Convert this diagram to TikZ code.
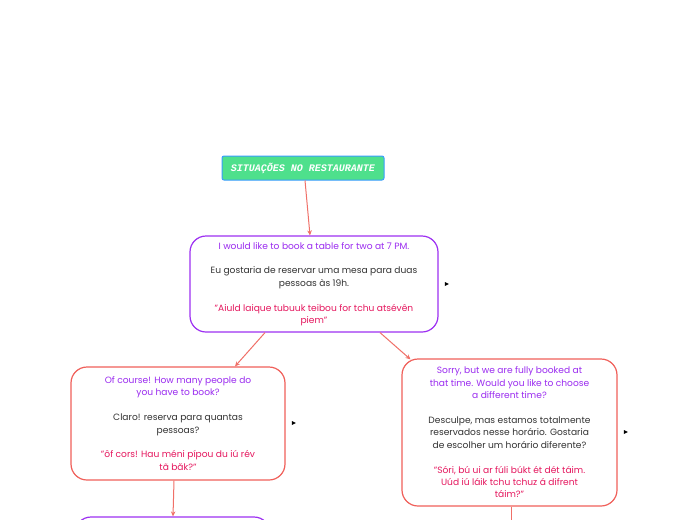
\documentclass[tikz,border=0pt]{standalone}
\usepackage{fontspec}
\setmainfont{Poppins}
\newfontfamily\titlefont{Liberation Mono}
\usetikzlibrary{arrows.meta,shapes.geometric}
\definecolor{tpurple}{HTML}{9B2CF0}
\definecolor{tred}{HTML}{E5175E}
\definecolor{tdark}{HTML}{333333}
\definecolor{bpurple}{HTML}{9D30F2}
\definecolor{bred}{HTML}{F0605A}
\definecolor{conncol}{HTML}{F07068}
\definecolor{tgreen}{HTML}{4EE08C}
\definecolor{tblue}{HTML}{3A9CFF}
\tikzset{
  box/.style={draw, line width=1.2pt, rounded corners=16pt, fill=white, align=center, inner sep=0pt,
    font=\fontsize{9.1}{12.4}\selectfont},
  pbox/.style={box, draw=bpurple},
  rbox/.style={box, draw=bred},
  conn/.style={draw=conncol, line width=1pt, -{Stealth[length=5pt,width=4.5pt]}},
  plainconn/.style={draw=conncol, line width=1pt},
  tri/.style={isosceles triangle, fill=black, inner sep=0pt, minimum width=4pt, minimum height=4pt, isosceles triangle apex angle=70, isosceles triangle stretches},
  titlebox/.style={draw=tblue, fill=tgreen, line width=1pt, rounded corners=2pt, minimum width=162pt, minimum height=24pt,
    text=white, font=\titlefont\fontsize{10}{12}\selectfont\bfseries\itshape}
}
\begin{document}
\begin{tikzpicture}[x=1pt,y=-1pt]
\path[use as bounding box, fill=white] (0,0) rectangle (697,520);
\clip (0,0) rectangle (697,520);

\node[titlebox] (title) at (303,168) {SITUAÇÕES NO RESTAURANTE};

\node[pbox, minimum width=248pt, minimum height=96pt] (b1) at (314,284) {%
\textcolor{tpurple}{I would like to book a table for two at 7 PM.}\\[12.4pt]
\textcolor{tdark}{Eu gostaria de reservar uma mesa para duas}\\
\textcolor{tdark}{pessoas às 19h.}\\[12.4pt]
\textcolor{tred}{"Aiuld laique tubuuk teibou for tchu atsévên}\\
\textcolor{tred}{piem"}};

\node[rbox, minimum width=214pt, minimum height=113pt] (b2) at (178,423.5) {%
\textcolor{tpurple}{Of course! How many people do}\\
\textcolor{tpurple}{you have to book?}\\[12.4pt]
\textcolor{tdark}{Claro! reserva para quantas}\\
\textcolor{tdark}{pessoas?}\\[12.4pt]
\textcolor{tred}{"ôf cors! Hau méni pípou du iú rév}\\
\textcolor{tred}{tã băk?"}};

\node[rbox, minimum width=215pt, minimum height=147pt] (b3) at (509.5,432.5) {%
\textcolor{tpurple}{Sorry, but we are fully booked at}\\
\textcolor{tpurple}{that time. Would you like to choose}\\
\textcolor{tpurple}{a different time?}\\[12.4pt]
\textcolor{tdark}{Desculpe, mas estamos totalmente}\\
\textcolor{tdark}{reservados nesse horário. Gostaria}\\
\textcolor{tdark}{de escolher um horário diferente?}\\[12.4pt]
\textcolor{tred}{"Sóri, bú ui ar fúli búkt ét dét táim.}\\
\textcolor{tred}{Uúd iú láik tchu tchuz á difrent}\\
\textcolor{tred}{táim?"}};

\node[pbox, minimum width=195pt, minimum height=40pt] (b4) at (172.5,537) {};

\node[tri] (t1) at (446,284) {};
\node[tri] (t2) at (293,423) {};
\node[tri] (t3) at (625,432) {};

\coordinate (c5) at (511,530);

\draw[conn] ([xshift=2pt]title.south) -- ([xshift=-4pt]b1.north);
\draw[conn] ([xshift=-49pt]b1.south) -- ([xshift=57pt]b2.north);
\draw[conn] ([xshift=66pt]b1.south) -- ([xshift=-99pt,yshift=-1pt]b3.north);
\draw[conn] ([xshift=-4pt]b2.south) -- ([xshift=0.5pt]b4.north);
\draw[plainconn] ([xshift=1.5pt]b3.south) -- (c5);
\end{tikzpicture}
\end{document}
